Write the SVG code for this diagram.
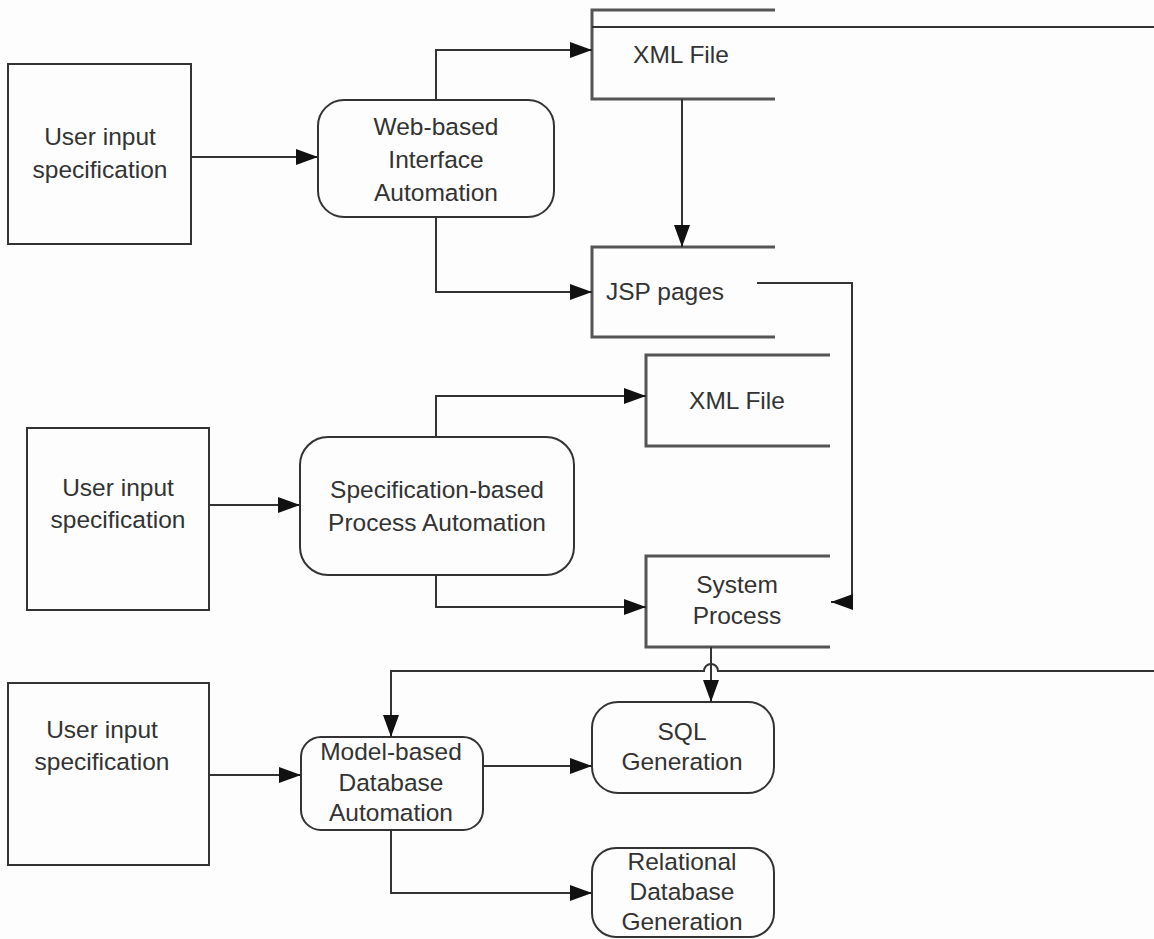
<svg xmlns="http://www.w3.org/2000/svg" width="1154" height="939" viewBox="0 0 1154 939">
<style>
.bg{fill:#fdfdfd}
.box{fill:none;stroke:#333;stroke-width:2}
.store{fill:none;stroke:#555;stroke-width:3}
.c{fill:none;stroke:#333;stroke-width:2}
text{font-family:"Liberation Sans",Arial,sans-serif;font-size:24.5px;fill:#333;text-anchor:middle}
</style>
<defs>
<marker id="a" markerUnits="userSpaceOnUse" markerWidth="24" markerHeight="16" refX="22" refY="8" orient="auto">
<path d="M0,0 L22,8 L0,16 Z" fill="#111"/>
</marker>
</defs>
<rect class="bg" width="1154" height="939"/>

<g id="user1"><rect class="box" x="8" y="64" width="183" height="180"/><text x="100" y="145">User input</text><text x="100" y="178">specification</text></g>
<g id="web"><rect class="box" x="318" y="100" width="236" height="117" rx="26"/><text x="436" y="135">Web-based</text><text x="436" y="168">Interface</text><text x="436" y="201">Automation</text></g>
<g id="xml1"><path class="store" d="M775,10 H592 V99 H775"/><text x="681" y="63">XML File</text></g>
<g id="jsp"><path class="store" d="M775,247 H592 V337 H775"/><text x="665" y="300">JSP pages</text></g>

<g id="user2"><rect class="box" x="27" y="428" width="182" height="182"/><text x="118" y="496">User input</text><text x="118" y="528">specification</text></g>
<g id="spec"><rect class="box" x="300" y="437" width="274" height="138" rx="28"/><text x="437" y="498">Specification-based</text><text x="437" y="531">Process Automation</text></g>
<g id="xml2"><path class="store" d="M830,355 H646 V446 H830"/><text x="737" y="409">XML File</text></g>
<g id="sysproc"><path class="store" d="M830,556 H646 V647 H830"/><text x="737" y="593">System</text><text x="737" y="624">Process</text></g>

<g id="user3"><rect class="box" x="8" y="683" width="201" height="182"/><text x="102" y="738">User input</text><text x="102" y="770">specification</text></g>
<g id="model"><rect class="box" x="301" y="737" width="182" height="93" rx="20"/><text x="391" y="760">Model-based</text><text x="391" y="791">Database</text><text x="391" y="821">Automation</text></g>
<g id="sql"><rect class="box" x="592" y="702" width="182" height="91" rx="26"/><text x="682" y="740">SQL</text><text x="682" y="770">Generation</text></g>
<g id="rdb"><rect class="box" x="592" y="848" width="182" height="89" rx="24"/><text x="682" y="870">Relational</text><text x="682" y="900">Database</text><text x="682" y="930">Generation</text></g>

<g id="connectors">
<path class="c" d="M1154,27 H592"/>
<path class="c" marker-end="url(#a)" d="M191,157 H318"/>
<path class="c" marker-end="url(#a)" d="M436,100 V50 H592"/>
<path class="c" marker-end="url(#a)" d="M436,217 V292 H592"/>
<path class="c" marker-end="url(#a)" d="M682,99 V247"/>
<path class="c" marker-end="url(#a)" d="M757,283 H852 V602 H831"/>
<path class="c" marker-end="url(#a)" d="M209,505 H300"/>
<path class="c" marker-end="url(#a)" d="M436,437 V396 H646"/>
<path class="c" marker-end="url(#a)" d="M436,575 V607 H646"/>
<path class="c" marker-end="url(#a)" d="M711,647 V702"/>
<path class="c" marker-end="url(#a)" d="M1154,671 H718 A7,7 0 0 0 704,671 H391 V737"/>
<path class="c" marker-end="url(#a)" d="M209,775 H301"/>
<path class="c" marker-end="url(#a)" d="M483,766 H592"/>
<path class="c" marker-end="url(#a)" d="M391,830 V893 H592"/>
</g>
</svg>
